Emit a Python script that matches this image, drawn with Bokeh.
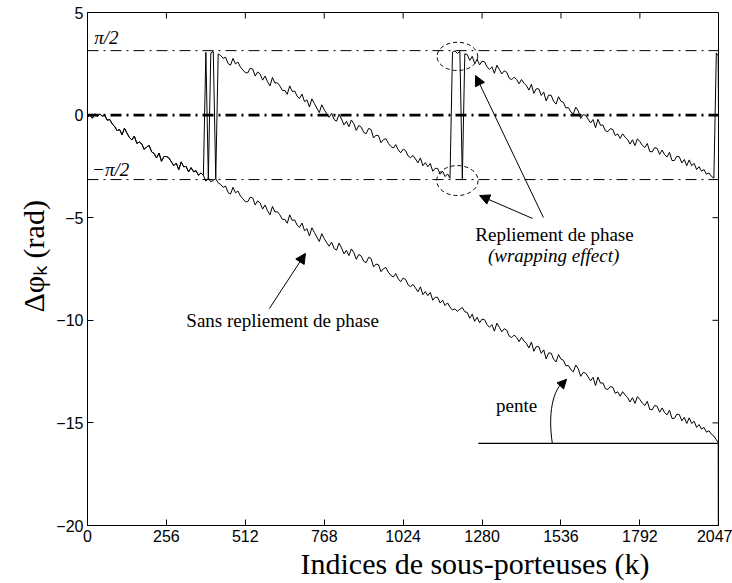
import numpy as np
from bokeh.plotting import figure
from bokeh.models import (Span, Label, Arrow, NormalHead, FixedTicker, Range1d, Title)
from bokeh.embed import file_html
from bokeh.resources import INLINE

# ---------------- data ----------------
k_idx = list(range(0, 2048, 8)) + [2046, 2047]

delta_phi = [
    -0.11, 0.01, -0.15, 0.06, -0.05, 0.05, -0.05, 0.00,
    -0.25, -0.21, -0.43, -0.55, -0.76, -0.70, -0.96, -0.64,
    -0.88, -1.09, -1.21, -1.02, -1.38, -1.31, -1.40, -1.67,
    -1.55, -1.48, -1.79, -1.87, -2.09, -1.85, -2.25, -2.02,
    -2.02, -2.08, -2.28, -2.46, -2.34, -2.66, -2.28, -2.52,
    -2.50, -2.77, -2.56, -2.76, -2.71, -2.93, -2.82, -2.94,
    -3.22, -3.06, -3.25, -3.18, -3.10, -3.30, -3.38, -3.52,
    -3.46, -3.77, -3.85, -3.52, -3.79, -3.70, -3.94, -4.08,
    -4.22, -4.22, -4.00, -4.04, -4.38, -4.18, -4.28, -4.58,
    -4.38, -4.66, -4.86, -4.45, -4.72, -4.71, -4.86, -5.08,
    -5.08, -5.27, -4.86, -5.13, -5.11, -5.36, -5.47, -5.26,
    -5.63, -5.54, -5.89, -5.49, -5.72, -5.94, -6.16, -5.78,
    -6.02, -6.22, -6.39, -6.19, -6.50, -6.58, -6.24, -6.47,
    -6.76, -6.59, -6.85, -6.52, -6.70, -7.03, -6.79, -6.87,
    -7.12, -7.19, -6.93, -6.99, -7.40, -7.26, -7.29, -7.63,
    -7.48, -7.43, -7.66, -7.81, -7.89, -7.72, -7.98, -8.12,
    -7.94, -8.01, -8.27, -8.36, -8.25, -8.42, -8.61, -8.37,
    -8.75, -8.60, -8.80, -8.64, -9.02, -8.88, -8.88, -9.16,
    -9.02, -9.28, -9.15, -9.36, -9.50, -9.44, -9.56, -9.46,
    -9.38, -9.58, -9.62, -9.90, -9.70, -10.05, -9.85, -10.12,
    -9.94, -9.97, -10.21, -10.34, -10.21, -10.53, -10.14, -10.34,
    -10.56, -10.41, -10.48, -10.77, -10.84, -10.72, -10.83, -11.04,
    -10.83, -11.01, -11.13, -11.35, -11.06, -11.51, -11.28, -11.29,
    -11.61, -11.44, -11.88, -11.59, -11.60, -11.89, -12.03, -11.67,
    -11.89, -11.95, -12.22, -12.20, -12.41, -12.51, -12.18, -12.36,
    -12.73, -12.54, -12.58, -12.76, -12.95, -12.78, -13.18, -12.77,
    -13.06, -13.05, -13.33, -13.37, -13.23, -13.26, -13.56, -13.48,
    -13.70, -13.48, -13.64, -13.76, -13.98, -13.77, -14.05, -13.72,
    -13.86, -14.04, -14.15, -13.95, -14.34, -14.36, -14.15, -14.19,
    -14.48, -14.27, -14.49, -14.61, -14.38, -14.78, -14.78, -14.57,
    -14.60, -14.90, -14.73, -15.03, -14.75, -15.03, -14.92, -15.22,
    -15.08, -15.30, -15.22, -15.45, -15.38, -15.55, -15.64, -15.82,
    -15.96, -25.10,
]

# the same measurements, wrapped into (-pi, pi]
phi_wrapped = ((np.array(delta_phi) + np.pi) % (2 * np.pi)) - np.pi

x_ticks = [0, 256, 512, 768, 1024, 1280, 1536, 1792, 2047]
x_tick_labels = ["0", "256", "512", "768", "1024", "1280", "1536", "1792", "2047"]
y_ticks = [5, 0, -5, -10, -15, -20]
y_tick_labels = ["5", "0", "\u22125", "\u221210", "\u221215", "\u221220"]

ref_levels = [np.pi, 0.0, -np.pi]
ref_widths = [1, 2.6, 1]
slope_level = -16.0
slope_start = 1268

X_MIN, X_MAX, Y_MIN, Y_MAX = 0, 2047, -20, 5
FRAME_W, FRAME_H = 631, 513
TICK_PX = 6

# ---------------- figure ----------------
p = figure(width=732, height=583, x_range=Range1d(X_MIN, X_MAX), y_range=Range1d(Y_MIN, Y_MAX),
           output_backend="svg", toolbar_location=None,
           min_border_left=87, min_border_right=14, min_border_top=12, min_border_bottom=58)
p.background_fill_color = "white"
p.border_fill_color = "white"
p.outline_line_color = "black"
p.outline_line_width = 1
p.grid.visible = False

TICK_FONT = "Liberation Sans"
SERIF = "Liberation Serif"

p.xaxis.ticker = FixedTicker(ticks=x_ticks)
p.xaxis.major_label_overrides = dict(zip(x_ticks, x_tick_labels))
p.yaxis.ticker = FixedTicker(ticks=y_ticks)
p.yaxis.major_label_overrides = dict(zip(y_ticks, y_tick_labels))
for ax in (p.xaxis[0], p.yaxis[0]):
    ax.major_tick_in = TICK_PX
    ax.major_tick_out = 0
    ax.minor_tick_line_color = None
    ax.axis_line_color = "black"
    ax.major_tick_line_color = "black"
    ax.major_label_text_font = TICK_FONT
    ax.major_label_text_font_size = "16px"
    ax.major_label_text_color = "black"
    ax.major_label_standoff = 4

# axis titles as side titles (placed off-centre like the reference)
p.add_layout(Title(text="Indices de sous-porteuses (k)", align="left", offset=213,
                   text_font=SERIF, text_font_size="30px", text_font_style="normal",
                   text_color="black", standoff=0), "below")
p.add_layout(Title(text="\u0394\u03c6\u2096 (rad)", align="left", offset=213,
                   text_font=SERIF, text_font_size="30px", text_font_style="normal",
                   text_color="black", standoff=8), "left")

# inward ticks on the top and right sides of the box
dy = TICK_PX * (Y_MAX - Y_MIN) / FRAME_H
dx = TICK_PX * (X_MAX - X_MIN) / FRAME_W
p.segment(x0=x_ticks, y0=[Y_MAX] * len(x_ticks), x1=x_ticks, y1=[Y_MAX - dy] * len(x_ticks),
          line_color="black", line_width=1)
p.segment(x0=[X_MAX] * len(y_ticks), y0=y_ticks, x1=[X_MAX - dx] * len(y_ticks), y1=y_ticks,
          line_color="black", line_width=1)

# reference dash-dot lines
for lvl, w in zip(ref_levels, ref_widths):
    p.add_layout(Span(location=lvl, dimension="width", line_color="black",
                      line_width=w, line_dash="11 5 2 5"))

# curves
p.line(k_idx, delta_phi, line_color="black", line_width=1)
p.line(k_idx, phi_wrapped.tolist(), line_color="black", line_width=1)

# slope reference
p.segment(x0=[slope_start], y0=[slope_level], x1=[X_MAX], y1=[slope_level],
          line_color="black", line_width=1.2)
p.bezier(x0=[1508], y0=[slope_level], x1=[1554], y1=[-12.88],
         cx0=[1494], cy0=[-14.64], cx1=[1506], cy1=[-13.3],
         line_color="black", line_width=1)
p.add_layout(Arrow(end=NormalHead(size=9, fill_color="black", line_color="black"),
                   x_start=1540, y_start=-13.1, x_end=1554, y_end=-12.88,
                   line_color="black", line_width=1))

# dashed ellipses around the wraps
p.ellipse(x=[1200, 1200], y=[2.86, -3.19], width=[132, 134], height=[1.38, 1.46],
          fill_color=None, line_color="black", line_dash="4 3", line_width=1)

# arrows
head = dict(size=10, fill_color="black", line_color="black")
for xs, ys, xe, ye in [(590, -9.43, 707, -6.74),
                       (1444, -5.04, 1272, -3.92),
                       (1479, -4.99, 1259, 1.93)]:
    p.add_layout(Arrow(end=NormalHead(**head), x_start=xs, y_start=ys,
                       x_end=xe, y_end=ye, line_color="black", line_width=1))

# texts
def lab(x, y, t, size="19px", style="normal", align="center", font=SERIF):
    p.add_layout(Label(x=x, y=y, text=t, text_align=align, text_baseline="middle",
                       text_font=font, text_font_size=size, text_font_style=style,
                       text_color="black"))

lab(633, -10.0, "Sans repliement de phase")
lab(1515, -5.8, "Repliement de phase")
lab(1512, -6.84, "(wrapping effect)", style="italic")
lab(1392, -14.15, "pente")
lab(22, 3.78, "\u03c0/2", size="19px", style="italic", align="left")
lab(15, -2.65, "\u2212\u03c0/2", size="19px", style="italic", align="left")

open("out.html", "w").write(file_html(p, INLINE))
